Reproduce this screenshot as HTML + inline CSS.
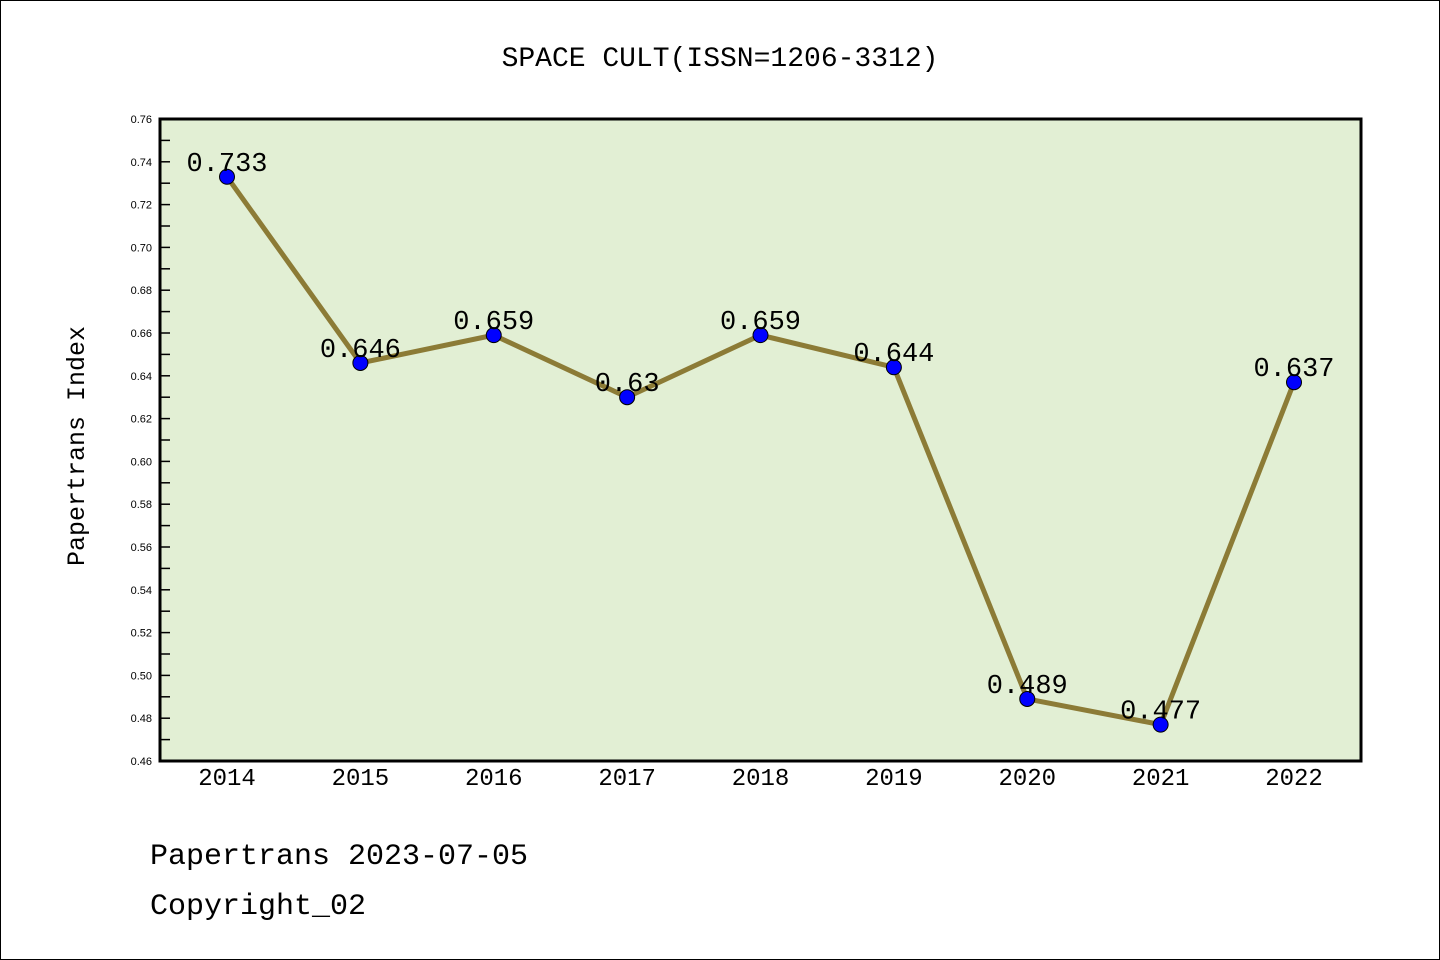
<!DOCTYPE html>
<html><head><meta charset="utf-8"><style>
html,body{margin:0;padding:0;background:#fff;}
svg{display:block;}
text{font-family:"Liberation Mono","WenQuanYi Zen Hei",monospace;}
</style></head><body>
<svg id="chart" width="1440" height="960" xmlns="http://www.w3.org/2000/svg">
<rect x="0.5" y="0.5" width="1439" height="959" fill="#fff" stroke="#000" stroke-width="1"/>
<text x="720" y="66" font-size="28" text-anchor="middle">SPACE CULT(ISSN=1206-3312)</text>
<rect x="160" y="119" width="1201" height="642" fill="#e2efd4"/>
<g id="axes"></g>
<g id="series"></g>
<rect x="160" y="119" width="1201" height="642" fill="none" stroke="#000" stroke-width="3"/>
<text transform="translate(84,446) rotate(-90)" font-size="25" text-anchor="middle">Papertrans Index</text>
<text x="150" y="864" font-size="30">Papertrans 2023-07-05</text>
<text x="150" y="914" font-size="30">Copyright_02</text>
</svg>
<script>
const categories = ["2014","2015","2016","2017","2018","2019","2020","2021","2022"];
const values = [0.733,0.646,0.659,0.63,0.659,0.644,0.489,0.477,0.637];
const valueLabels = ["0.733","0.646","0.659","0.63","0.659","0.644","0.489","0.477","0.637"];
const yTicks = [0.46,0.48,0.50,0.52,0.54,0.56,0.58,0.60,0.62,0.64,0.66,0.68,0.70,0.72,0.74,0.76];
const NS="http://www.w3.org/2000/svg";
const yMin=0.46,yMax=0.76,plotTop=119,plotBot=761;
function sy(v){return plotBot-(v-yMin)/(yMax-yMin)*(plotBot-plotTop);}
function sx(i){return 227+i*(1294-227)/(categories.length-1);}
function mk(t,a,p){const e=document.createElementNS(NS,t);for(const k in a)e.setAttribute(k,a[k]);p.appendChild(e);return e;}
const ax=document.getElementById('axes'),se=document.getElementById('series');
yTicks.forEach((v,i)=>{
  const l=mk('line',{x1:160,x2:170,y1:sy(v),y2:sy(v),stroke:'#000','stroke-width':1.5},ax);
  
  
  const t=mk('text',{x:152,y:sy(v)+4,'font-size':11,'text-anchor':'end',style:'font-family:"Liberation Sans",sans-serif'},ax);
  t.textContent=v.toFixed(2);
  
  
  if(i<yTicks.length-1){
    const m=mk('line',{x1:160,x2:170,y1:sy(v+0.01),y2:sy(v+0.01),stroke:'#000','stroke-width':1.5},ax);
    
    
  }
});
categories.forEach((c,i)=>{
  const t=mk('text',{x:sx(i),y:785,'font-size':24,'text-anchor':'middle'},ax);
  t.textContent=c;
  
  
});
const pl=mk('polyline',{points:values.map((v,i)=>sx(i)+','+sy(v)).join(' '),fill:'none',stroke:'#8c7b36','stroke-width':5},se);


values.forEach((v,i)=>{
  const c=mk('circle',{cx:sx(i),cy:sy(v),r:7.5,fill:'#0000ff',stroke:'#000','stroke-width':1},se);
  
  
  const t=mk('text',{x:sx(i),y:sy(v)-6,'font-size':27,'text-anchor':'middle'},se);
  t.textContent=valueLabels[i];
  
  
});
</script>
</body></html>
